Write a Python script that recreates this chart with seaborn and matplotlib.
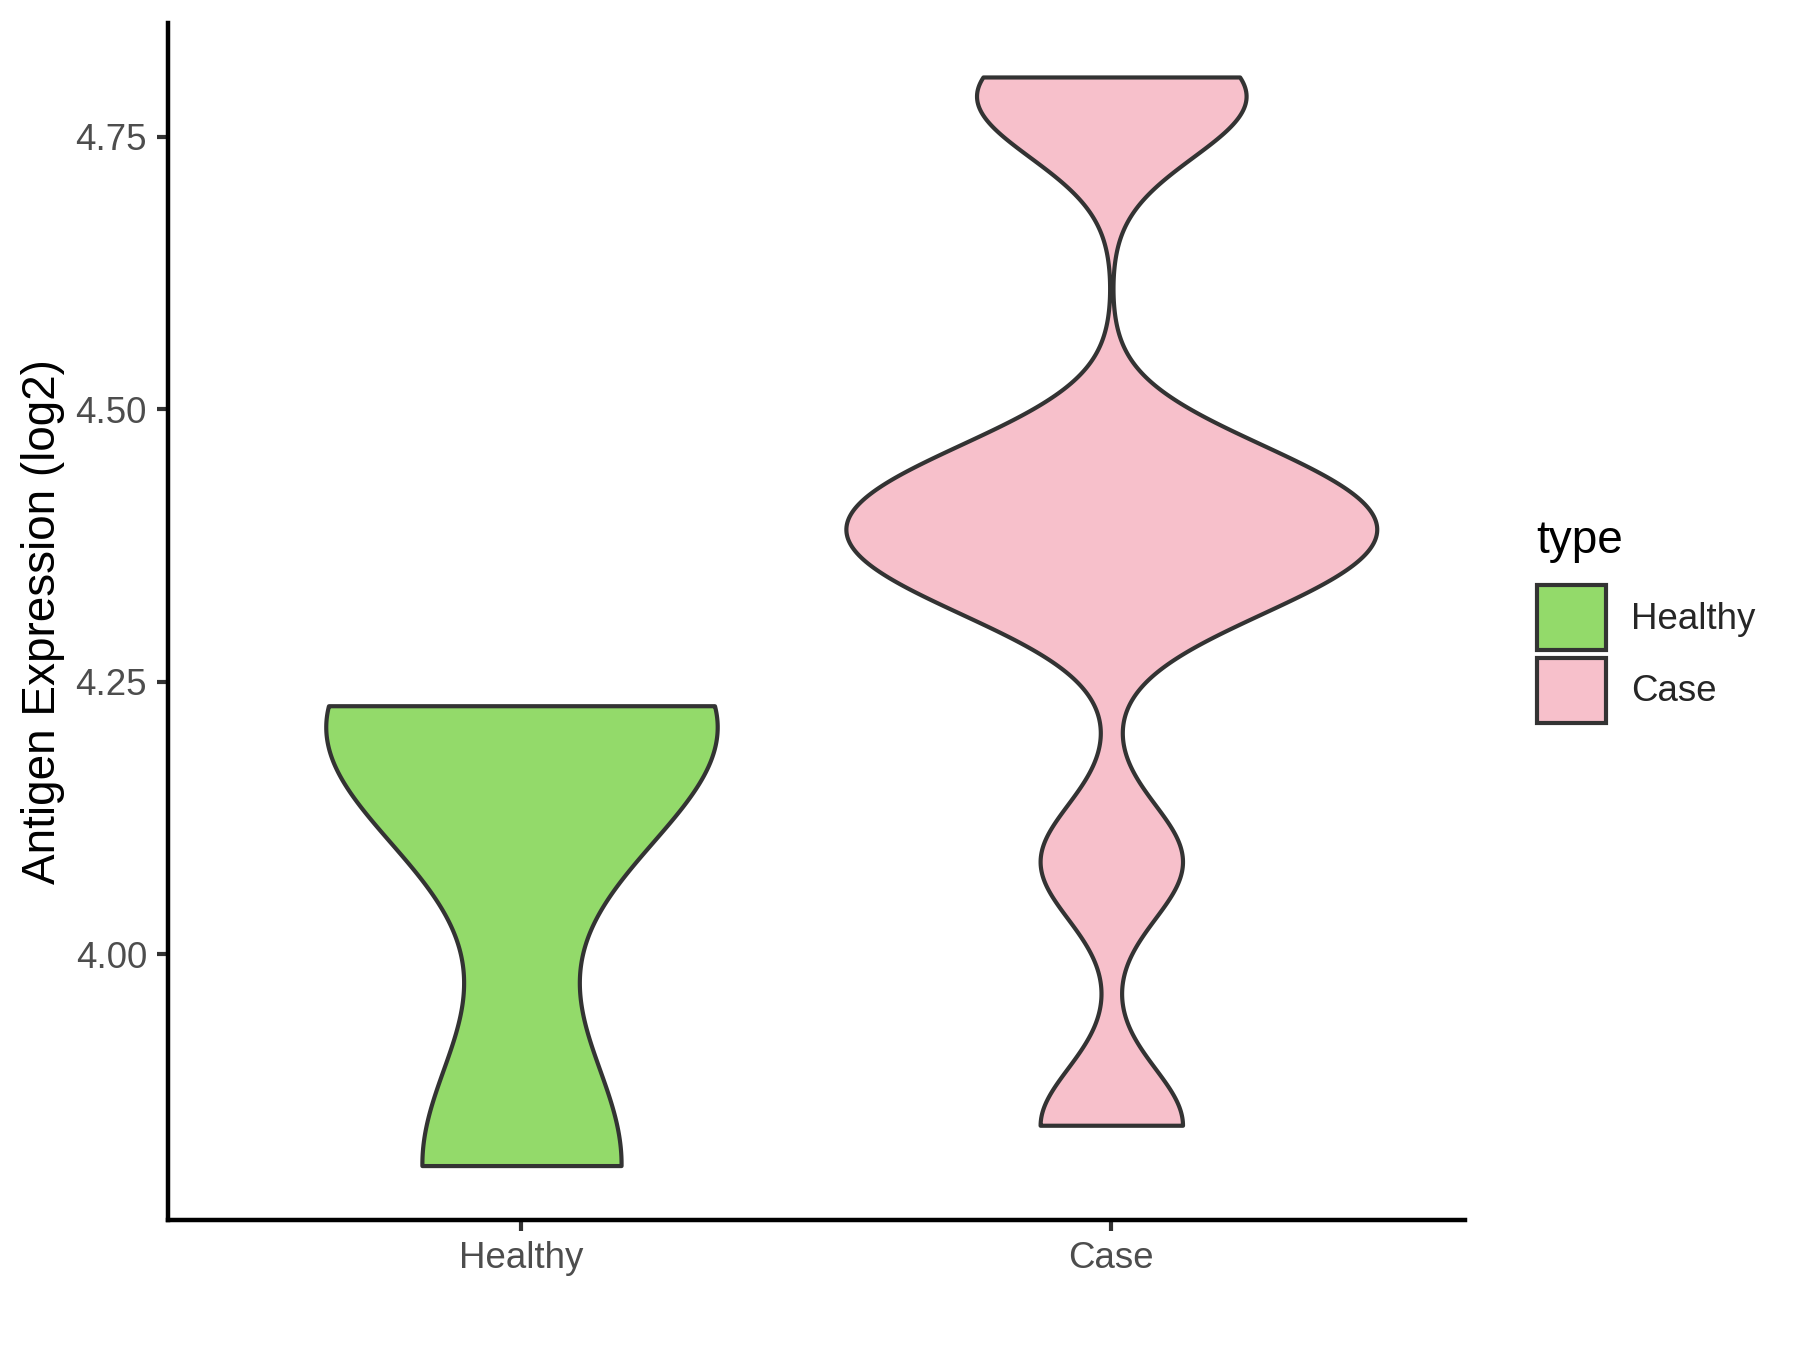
import matplotlib
matplotlib.use("Agg")
import matplotlib.pyplot as plt
from matplotlib.patches import Patch
import numpy as np
import pandas as pd
import seaborn as sns

# Values (trimmed KDE, ggplot-style nrd0 bandwidth)
groups = ["Healthy", "Case"]
healthy_values = [3.806, 4.19, 4.228]
case_values = [3.843, 4.085, 4.329, 4.36, 4.39, 4.42, 4.451, 4.77, 4.805]
fill_colors = ["#93DA6A", "#F7C0CB"]
y_ticks = [4.00, 4.25, 4.50, 4.75]
y_label = "Antigen Expression (log2)"
legend_title = "type"

EDGE = "#333333"


def bw_nrd0(kde):
    """R's bw.nrd0, returned as a factor of the sample sd (gaussian_kde API)."""
    x = np.asarray(kde.dataset).ravel()
    sd = np.std(x, ddof=1)
    q75, q25 = np.percentile(x, [75, 25])
    h = 0.9 * min(sd, (q75 - q25) / 1.34) * len(x) ** -0.2
    return h / sd


df = pd.DataFrame({
    "type": ["Healthy"] * len(healthy_values) + ["Case"] * len(case_values),
    "value": healthy_values + case_values,
})

sns.set_style("white")
plt.rcParams["font.family"] = ["Liberation Sans", "DejaVu Sans"]

fig = plt.figure(figsize=(6, 4.5), dpi=300)
ax = fig.add_axes([0.0931, 0.0963, 0.7209, 0.887])

sns.violinplot(
    data=df, x="type", y="value", hue="type",
    order=groups, hue_order=groups, palette=fill_colors,
    saturation=1, cut=0, bw_method=bw_nrd0, gridsize=512,
    width=0.9, density_norm="area", common_norm=True,
    inner=None, linewidth=1.0, linecolor=EDGE, legend=False, ax=ax,
)

# ggplot-like expansion of the scales
lo, hi = df["value"].min(), df["value"].max()
pad = 0.05 * (hi - lo)
ax.set_ylim(lo - pad, hi + pad)
ax.set_xlim(-0.6, len(groups) - 0.4)

ax.set_yticks(y_ticks)
ax.set_yticklabels([f"{t:.2f}" for t in y_ticks])
ax.set_xlabel("")
ax.set_ylabel(y_label, fontsize=11, color="black", labelpad=2.6)

for side in ["top", "right"]:
    ax.spines[side].set_visible(False)
for side in ["left", "bottom"]:
    ax.spines[side].set_linewidth(1.07)
    ax.spines[side].set_color("black")
ax.tick_params(axis="both", length=2.75, width=1.0, color=EDGE,
               labelsize=8.8, labelcolor="#4D4D4D", pad=2.2,
               left=True, bottom=True)

# legend: title drawn on its own so the gap to the keys matches ggplot
fig.text(0.8537, 0.5904, legend_title, fontsize=11, color="black",
         ha="left", va="baseline")
handles = [Patch(facecolor=c, edgecolor=EDGE, linewidth=1.0) for c in fill_colors]
fig.legend(
    handles, groups, loc="upper left", bbox_to_anchor=(0.8537, 0.5665),
    frameon=False, fontsize=8.8, handlelength=1.88, handleheight=2.35,
    handletextpad=0.7, labelspacing=0.2, borderpad=0, borderaxespad=0,
)

fig.savefig("out.png", dpi=300, facecolor="white")
plt.close(fig)
